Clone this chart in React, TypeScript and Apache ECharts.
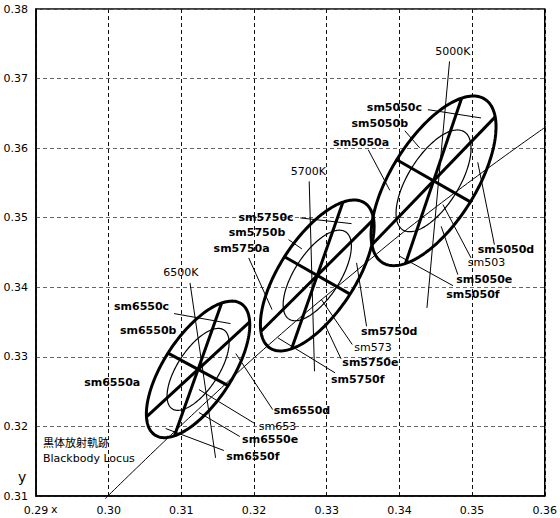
import React, { useEffect, useRef } from "react";
import * as echarts from "echarts";

// ANSI C78.377 nominal centres and 1-step ellipse parameters
const cctLabels = ["6500K", "5700K", "5000K"];
const centerX = [0.3123, 0.3287, 0.3447];
const centerY = [0.3282, 0.3417, 0.3553];
const stepA = [0.00223, 0.00246, 0.00274];
const stepB = [0.00095, 0.00105, 0.00118];
const tiltDeg = [58.34, 58.57, 59.62];
const outerSteps = 5;
const innerSteps = 3;
// three rank-dividing chords through each centre (direction, degrees)
const chordDeg = [
  [43.9, 71.2, -29.5],
  [46.1, 71.5, -30.8],
  [47.3, 72.0, -30.9],
];

// isotemperature lines
const isoX1 = [0.31119, 0.32759, 0.3469];
const isoY1 = [0.34063, 0.35523, 0.37247];
const isoX2 = [0.31471, 0.32832, 0.34379];
const isoY2 = [0.31549, 0.32793, 0.33704];

// blackbody locus
const locusX = [0.2995, 0.3064, 0.3135, 0.3221, 0.3325, 0.3451, 0.3606];
const locusY = [0.3096, 0.3166, 0.3236, 0.3318, 0.341, 0.3516, 0.3634];

// leader lines [x1, y1, x2, y2]
const leaders = [
  [0.309, 0.33622, 0.31677, 0.33478],
  [0.31749, 0.33047, 0.32256, 0.32243],
  [0.31242, 0.3253, 0.3201, 0.32042],
  [0.31242, 0.322, 0.31804, 0.31855],
  [0.30784, 0.3197, 0.31585, 0.31654],
  [0.32636, 0.34997, 0.33342, 0.34915],
  [0.32475, 0.34685, 0.32658, 0.34552],
  [0.31927, 0.34422, 0.32247, 0.3368],
  [0.33411, 0.34351, 0.33548, 0.3344],
  [0.32927, 0.33823, 0.33352, 0.33177],
  [0.32968, 0.33478, 0.33197, 0.32971],
  [0.32329, 0.33273, 0.33115, 0.3277],
  [0.34393, 0.36553, 0.35123, 0.36434],
  [0.34074, 0.36251, 0.34279, 0.36003],
  [0.33571, 0.35978, 0.33868, 0.35394],
  [0.35078, 0.35796, 0.35307, 0.34614],
  [0.34599, 0.35188, 0.34986, 0.34422],
  [0.34575, 0.34876, 0.34804, 0.34182],
  [0.34005, 0.34445, 0.34736, 0.34024],
];

// annotation texts: [text, x, y, align, bold]
const notes: [string, number, number, string, boolean][] = [
  ["sm6550c", 0.30832, 0.33718, "right", true],
  ["sm6550b", 0.30932, 0.33378, "right", true],
  ["sm6550a", 0.30434, 0.32635, "right", true],
  ["sm5750c", 0.32544, 0.35006, "right", true],
  ["sm5750b", 0.3243, 0.34782, "right", true],
  ["sm5750a", 0.32215, 0.34556, "right", true],
  ["sm5050c", 0.34311, 0.36578, "right", true],
  ["sm5050b", 0.34119, 0.36352, "right", true],
  ["sm5050a", 0.33859, 0.36079, "right", true],
  ["sm6550d", 0.3227, 0.32228, "left", true],
  ["sm653", 0.32064, 0.32003, "left", false],
  ["sm6550e", 0.31836, 0.31807, "left", true],
  ["sm6550f", 0.31616, 0.31572, "left", true],
  ["sm5750d", 0.33471, 0.33368, "left", true],
  ["sm573", 0.33379, 0.33129, "left", false],
  ["sm5750e", 0.33215, 0.32914, "left", true],
  ["sm5750f", 0.3306, 0.32674, "left", true],
  ["sm5050d", 0.35078, 0.34542, "left", true],
  ["sm503", 0.34941, 0.34351, "left", false],
  ["sm5050e", 0.34781, 0.34111, "left", true],
  ["sm5050f", 0.34644, 0.33895, "left", true],
  [cctLabels[0], 0.30992, 0.34216, "center", false],
  [cctLabels[1], 0.32749, 0.35667, "center", false],
  [cctLabels[2], 0.34736, 0.37391, "center", false],
  ["黒体放射軌跡", 0.29096, 0.3175, "left", false],
  ["Blackbody Locus", 0.29096, 0.31534, "left", false],
];

const FONT = "'DejaVu Sans', 'Noto Sans CJK JP', sans-serif";

export default function App() {
  const ref = useRef<HTMLDivElement>(null);
  useEffect(() => {
    if (!ref.current) return;
    const chart = echarts.init(ref.current, undefined, { renderer: "svg" });

    const ellipseItem = (params: any, api: any) => {
      const i = params.dataIndex;
      const cx = centerX[i];
      const cy = centerY[i];
      const th = (tiltDeg[i] * Math.PI) / 180;
      const ring = (k: number) => {
        const a = stepA[i] * k;
        const b = stepB[i] * k;
        const pts: number[][] = [];
        for (let s = 0; s < 180; s++) {
          const t = (s / 180) * 2 * Math.PI;
          const ex = a * Math.cos(t);
          const ey = b * Math.sin(t);
          pts.push(
            api.coord([
              cx + ex * Math.cos(th) - ey * Math.sin(th),
              cy + ex * Math.sin(th) + ey * Math.cos(th),
            ])
          );
        }
        return pts;
      };
      const a5 = stepA[i] * outerSteps;
      const b5 = stepB[i] * outerSteps;
      const chords = chordDeg[i].map((deg) => {
        const phi = (deg * Math.PI) / 180;
        const rel = phi - th;
        const r =
          1 /
          Math.sqrt(
            Math.pow(Math.cos(rel) / a5, 2) + Math.pow(Math.sin(rel) / b5, 2)
          );
        const p1 = api.coord([cx + r * Math.cos(phi), cy + r * Math.sin(phi)]);
        const p2 = api.coord([cx - r * Math.cos(phi), cy - r * Math.sin(phi)]);
        return {
          type: "line",
          shape: { x1: p1[0], y1: p1[1], x2: p2[0], y2: p2[1] },
          style: { stroke: "#000", lineWidth: 3 },
        };
      });
      return {
        type: "group",
        children: [
          {
            type: "polygon",
            shape: { points: ring(outerSteps) },
            style: { fill: "none", stroke: "#000", lineWidth: 3 },
          },
          {
            type: "polygon",
            shape: { points: ring(innerSteps) },
            style: { fill: "none", stroke: "#000", lineWidth: 1.2 },
          },
          ...chords,
        ],
      };
    };

    const thinLines = [
      ...isoX1.map((x, i) => [x, isoY1[i], isoX2[i], isoY2[i]]),
      ...leaders,
    ];

    const option: any = {
      animation: false,
      grid: {
        left: 36,
        top: 9,
        right: 13,
        bottom: 22,
        show: true,
        borderColor: "#000",
        borderWidth: 1.5,
      },
      xAxis: {
        type: "value",
        min: 0.29,
        max: 0.36,
        interval: 0.01,
        axisLine: { show: true, onZero: false, lineStyle: { color: "#000", width: 1.5 } },
        axisTick: { show: false },
        axisLabel: {
          formatter: (v: number) => v.toFixed(2),
          fontSize: 11,
          fontFamily: FONT,
          color: "#000",
          margin: 9,
        },
        splitLine: { show: true, lineStyle: { color: "#111", type: [4, 3], width: 1 } },
      },
      yAxis: {
        type: "value",
        min: 0.31,
        max: 0.38,
        interval: 0.01,
        axisLine: { show: true, onZero: false, lineStyle: { color: "#000", width: 1.5 } },
        axisTick: { show: false },
        axisLabel: {
          formatter: (v: number) => v.toFixed(2),
          fontSize: 11,
          fontFamily: FONT,
          color: "#000",
          margin: 8,
        },
        splitLine: { show: true, lineStyle: { color: "#666", type: [4, 3], width: 1 } },
      },
      graphic: [
        {
          type: "text",
          left: 51,
          top: 504,
          style: { text: "x", font: `11px ${FONT}`, fill: "#000" },
        },
        {
          type: "text",
          left: 18,
          top: 470,
          style: { text: "y", font: `14px ${FONT}`, fill: "#000" },
        },
      ],
      series: [
        {
          type: "line",
          data: locusX.map((x, i) => [x, locusY[i]]),
          smooth: true,
          showSymbol: false,
          clip: false,
          silent: true,
          lineStyle: { color: "#000", width: 1 },
          z: 3,
        },
        {
          type: "custom",
          data: thinLines,
          encode: { x: [0, 2], y: [1, 3] },
          silent: true,
          z: 4,
          renderItem: (params: any, api: any) => {
            const p1 = api.coord([api.value(0), api.value(1)]);
            const p2 = api.coord([api.value(2), api.value(3)]);
            return {
              type: "line",
              shape: { x1: p1[0], y1: p1[1], x2: p2[0], y2: p2[1] },
              style: { stroke: "#000", lineWidth: 1 },
            };
          },
        },
        {
          type: "custom",
          data: centerX.map((x, i) => [x, centerY[i]]),
          encode: { x: 0, y: 1 },
          silent: true,
          z: 5,
          renderItem: ellipseItem,
        },
        {
          type: "custom",
          data: notes.map((n) => [n[1], n[2]]),
          encode: { x: 0, y: 1 },
          silent: true,
          z: 6,
          renderItem: (params: any, api: any) => {
            const n = notes[params.dataIndex];
            const p = api.coord([api.value(0), api.value(1)]);
            return {
              type: "text",
              x: p[0],
              y: p[1],
              style: {
                text: n[0],
                fill: "#000",
                font: `${n[4] ? "bold " : ""}11px ${FONT}`,
                align: n[3],
                verticalAlign: "middle",
              },
            };
          },
        },
      ],
    };
    chart.setOption(option);
    return () => chart.dispose();
  }, []);
  return (
    <div
      ref={ref}
      style={{ position: "fixed", left: 0, top: 0, width: 560, height: 518, background: "#fff" }}
    />
  );
}
